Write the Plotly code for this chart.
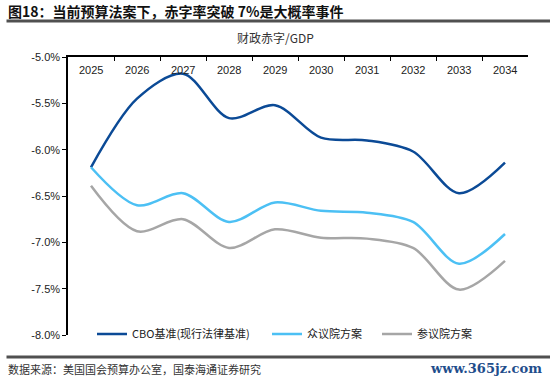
import plotly.graph_objects as go

years = ["2025", "2026", "2027", "2028", "2029", "2030", "2031", "2032", "2033", "2034"]
cbo = [-6.19, -5.45, -5.18, -5.66, -5.52, -5.87, -5.90, -6.02, -6.47, -6.14]
house = [-6.19, -6.60, -6.47, -6.78, -6.57, -6.66, -6.68, -6.78, -7.23, -6.91]
senate = [-6.39, -6.88, -6.75, -7.06, -6.86, -6.95, -6.96, -7.06, -7.51, -7.20]
ytick_vals = [-5.0, -5.5, -6.0, -6.5, -7.0, -7.5, -8.0]
ytick_text = ["-5.0%", "-5.5%", "-6.0%", "-6.5%", "-7.0%", "-7.5%", "-8.0%"]

W, H = 550, 381
L, R, T, B = 68, 528, 57, 335

def px(x):
    return (x - L) / (R - L)

def py(y):
    return (B - y) / (B - T)

cjk = "Noto Sans CJK SC"
fig = go.Figure()
series = [
    ("CBO基准(现行法律基准)", cbo, "#0B4A96", "legend", 92),
    ("众议院方案", house, "#4CC0F4", "legend2", 267),
    ("参议院方案", senate, "#A6A6A6", "legend3", 377),
]
legends = {}
for name, vals, col, lg, lx in series:
    fig.add_trace(go.Scatter(
        x=years, y=vals, name=name, mode="lines", legend=lg,
        line=dict(color=col, width=2.5, shape="spline", smoothing=0.9),
    ))
    legends[lg] = dict(
        orientation="h", x=px(lx), y=py(334), xanchor="left", yanchor="middle",
        font=dict(family=cjk, size=11, color="#222"),
        bgcolor="rgba(0,0,0,0)", borderwidth=0, itemwidth=30,
    )

fig.update_layout(
    width=W, height=H,
    margin=dict(l=L, r=W - R, t=T, b=H - B, autoexpand=False),
    paper_bgcolor="white", plot_bgcolor="white",
    showlegend=True,
    xaxis=dict(
        type="category", side="top", showline=True, linecolor="black", linewidth=1.5,
        ticks="inside", ticklen=4, tickcolor="black", tickson="boundaries",
        showticklabels=False, anchor="y",
        showgrid=False, range=[-0.5, 9.5], automargin=False,
    ),
    yaxis=dict(
        range=[-8.0, -5.0], tickvals=ytick_vals, ticktext=ytick_text,
        showline=True, linecolor="black", linewidth=1.5,
        ticks="outside", ticklen=4, tickcolor="black",
        tickfont=dict(family="Liberation Sans, Arial", size=11, color="#222"),
        showgrid=False, zeroline=False, automargin=False,
    ),
    font=dict(family=cjk),
    **legends,
)

# category labels drawn just under the top axis line
for i, yr in enumerate(years):
    fig.add_annotation(text=yr, x=i, xref="x", y=py(70), yref="paper", showarrow=False,
                       xanchor="center", yanchor="middle",
                       font=dict(family="Liberation Sans, Arial", size=11, color="#222"))

annotations = [
    dict(text="<b>图18：当前预算法案下，赤字率突破 7%是大概率事件</b>", x=6, y=11,
         xanchor="left", yanchor="middle", font=dict(family=cjk, size=14, color="#111")),
    dict(text="财政赤字/GDP", x=275, y=37, xanchor="center", yanchor="middle",
         font=dict(family=cjk, size=12, color="#333")),
    dict(text="数据来源：美国国会预算办公室，国泰海通证券研究", x=6, y=369,
         xanchor="left", yanchor="middle", font=dict(family=cjk, size=11, color="#333")),
    dict(text="<b>www.365jz.com</b>", x=544, y=368, xanchor="right", yanchor="middle",
         font=dict(family="DejaVu Serif", size=13, color="#1F4E8C")),
]
for a in annotations:
    fig.add_annotation(text=a["text"], x=px(a["x"]), y=py(a["y"]), xref="paper", yref="paper",
                       xanchor=a["xanchor"], yanchor=a["yanchor"], showarrow=False, font=a["font"])

# horizontal rules under the title and above the source line
for yy in (21, 357):
    fig.add_annotation(text=" ", x=px(6), y=py(yy), xref="paper", yref="paper",
                       xanchor="left", yanchor="middle", showarrow=False,
                       width=544, height=2, borderpad=0, bgcolor="#505050",
                       font=dict(size=1))

fig.write_html("out.html", config={"displayModeBar": False},
               post_script="document.body.style.margin='0';document.body.style.overflow='hidden';")
